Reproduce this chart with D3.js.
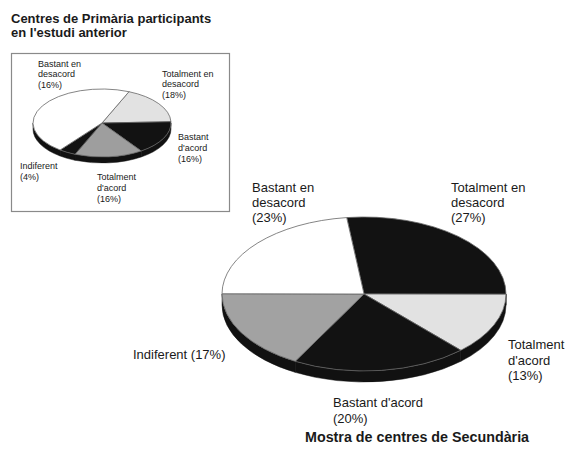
<!DOCTYPE html>
<html>
<head>
<meta charset="utf-8">
<script src="https://cdn.jsdelivr.net/npm/d3@7"></script>
<style>
  body { margin: 0; background: #fff; }
  text { font-family: "Liberation Sans", Arial, sans-serif; fill: #1a1a1a; }
</style>
</head>
<body>
<script>
// Primaria (small pie), clockwise order
var primCategories = ["Totalment en desacord", "Bastant d'acord", "Totalment d'acord", "Indiferent", "Bastant en desacord"];
var primValues = [18, 16, 16, 4, 46];
var primLabels = ["(18%)", "(16%)", "(16%)", "(4%)", "(16%)"];
var primColors = ["#e2e2e2", "#121212", "#9e9e9e", "#121212", "#ffffff"];

// Secundaria (big pie), clockwise order
var secCategories = ["Totalment en desacord", "Totalment d'acord", "Bastant d'acord", "Indiferent", "Bastant en desacord"];
var secValues = [27, 13, 20, 17, 23];
var secLabels = ["(27%)", "(13%)", "(20%)", "(17%)", "(23%)"];
var secColors = ["#121212", "#e2e2e2", "#121212", "#a2a2a2", "#ffffff"];

function init(){

    var w = 566;
    var h = 451;

    var svg = d3.select("body")
                .append("svg")
                .attr("width", w)
                .attr("height", h);

    // point on ellipse, angle clockwise from north
    function pt(cx, cy, rx, ry, a) {
        return [cx + rx * Math.sin(a), cy - ry * Math.cos(a)];
    }

    function topPath(cx, cy, rx, ry, a0, a1) {
        var p0 = pt(cx, cy, rx, ry, a0), p1 = pt(cx, cy, rx, ry, a1);
        var large = (a1 - a0) > Math.PI ? 1 : 0;
        return "M" + cx + "," + cy + "L" + p0 + "A" + rx + "," + ry + " 0 " + large + " 1 " + p1 + "Z";
    }

    function sidePath(cx, cy, rx, ry, depth, a0, a1) {
        // only the front half (pi/2 .. 3pi/2) shows its side
        var parts = [];
        [[Math.PI / 2, 3 * Math.PI / 2], [Math.PI / 2 + 2 * Math.PI, 3 * Math.PI / 2 + 2 * Math.PI], [Math.PI / 2 - 2 * Math.PI, 3 * Math.PI / 2 - 2 * Math.PI]].forEach(function(r) {
            var s = Math.max(a0, r[0]), e = Math.min(a1, r[1]);
            if (e > s) {
                var p0 = pt(cx, cy, rx, ry, s), p1 = pt(cx, cy, rx, ry, e);
                parts.push("M" + p0 + "A" + rx + "," + ry + " 0 0 1 " + p1 +
                    "L" + p1[0] + "," + (p1[1] + depth) +
                    "A" + rx + "," + ry + " 0 0 0 " + p0[0] + "," + (p0[1] + depth) + "Z");
            }
        });
        return parts.join("");
    }

    function drawPie(g, values, colors, startDeg, cx, cy, rx, ry, depth) {
        var start = startDeg * Math.PI / 180;
        var pie = d3.pie().sort(null)
                    .startAngle(start)
                    .endAngle(start + 2 * Math.PI);
        var arcs = pie(values);

        g.selectAll("path.side")
            .data(arcs)
            .enter()
            .append("path")
            .attr("class", "side")
            .attr("d", function(d) { return sidePath(cx, cy, rx, ry, depth, d.startAngle, d.endAngle); })
            .style("fill", "#111")
            .style("stroke", "#111")
            .style("stroke-width", 0.5);

        g.selectAll("path.top")
            .data(arcs)
            .enter()
            .append("path")
            .attr("class", "top")
            .attr("d", function(d) { return topPath(cx, cy, rx, ry, d.startAngle, d.endAngle); })
            .style("fill", function(d, i) { return colors[i]; })
            .style("stroke", "#666")
            .style("stroke-width", 0.8)
            .style("stroke-linejoin", "round");
    }

    function label(g, x, y, lines, size, lh) {
        var t = g.append("text")
                 .attr("x", x)
                 .attr("y", y)
                 .style("font-size", size + "px");
        lines.forEach(function(l, i) {
            t.append("tspan").attr("x", x).attr("dy", i === 0 ? 0 : lh).text(l);
        });
    }

    // titles
    svg.append("text").attr("x", 11).attr("y", 23)
        .style("font-size", "13px").style("font-weight", "bold")
        .text("Centres de Primària participants");
    svg.append("text").attr("x", 11).attr("y", 37)
        .style("font-size", "13px").style("font-weight", "bold")
        .text("en l'estudi anterior");

    // frame for small chart
    svg.append("rect")
        .attr("x", 11.5).attr("y", 53.5)
        .attr("width", 218).attr("height", 158)
        .style("fill", "none")
        .style("stroke", "#8a8a8a")
        .style("stroke-width", 1.2);

    var gSmall = svg.append("g");
    drawPie(gSmall, primValues, primColors, 23, 102, 123, 69, 34, 6);

    label(gSmall, 38, 67, ["Bastant en", "desacord", primLabels[4]], 9, 10.3);
    label(gSmall, 162, 77, ["Totalment en", "desacord", primLabels[0]], 9, 10.3);
    label(gSmall, 178, 140, ["Bastant", "d'acord", primLabels[1]], 9, 10.8);
    label(gSmall, 20, 169, [primCategories[3], primLabels[3]], 9, 10.8);
    label(gSmall, 97, 180, ["Totalment", "d'acord", primLabels[2]], 9, 10.8);

    var gBig = svg.append("g");
    drawPie(gBig, secValues, secColors, -7, 364, 294, 142, 77, 11);

    label(gBig, 252, 192, ["Bastant en", "desacord", secLabels[4]], 13, 15);
    label(gBig, 451, 192, ["Totalment en", "desacord", secLabels[0]], 13, 15);
    label(gBig, 508, 349, ["Totalment", "d'acord", secLabels[1]], 13, 15.5);
    label(gBig, 333, 407, [secCategories[2], secLabels[2]], 13, 15.5);
    label(gBig, 133, 359, [secCategories[3] + " " + secLabels[3]], 13, 15);

    svg.append("text").attr("x", 305).attr("y", 442)
        .style("font-size", "14.3px").style("font-weight", "bold")
        .text("Mostra de centres de Secundària");
}

window.onload = init;
</script>
</body>
</html>
